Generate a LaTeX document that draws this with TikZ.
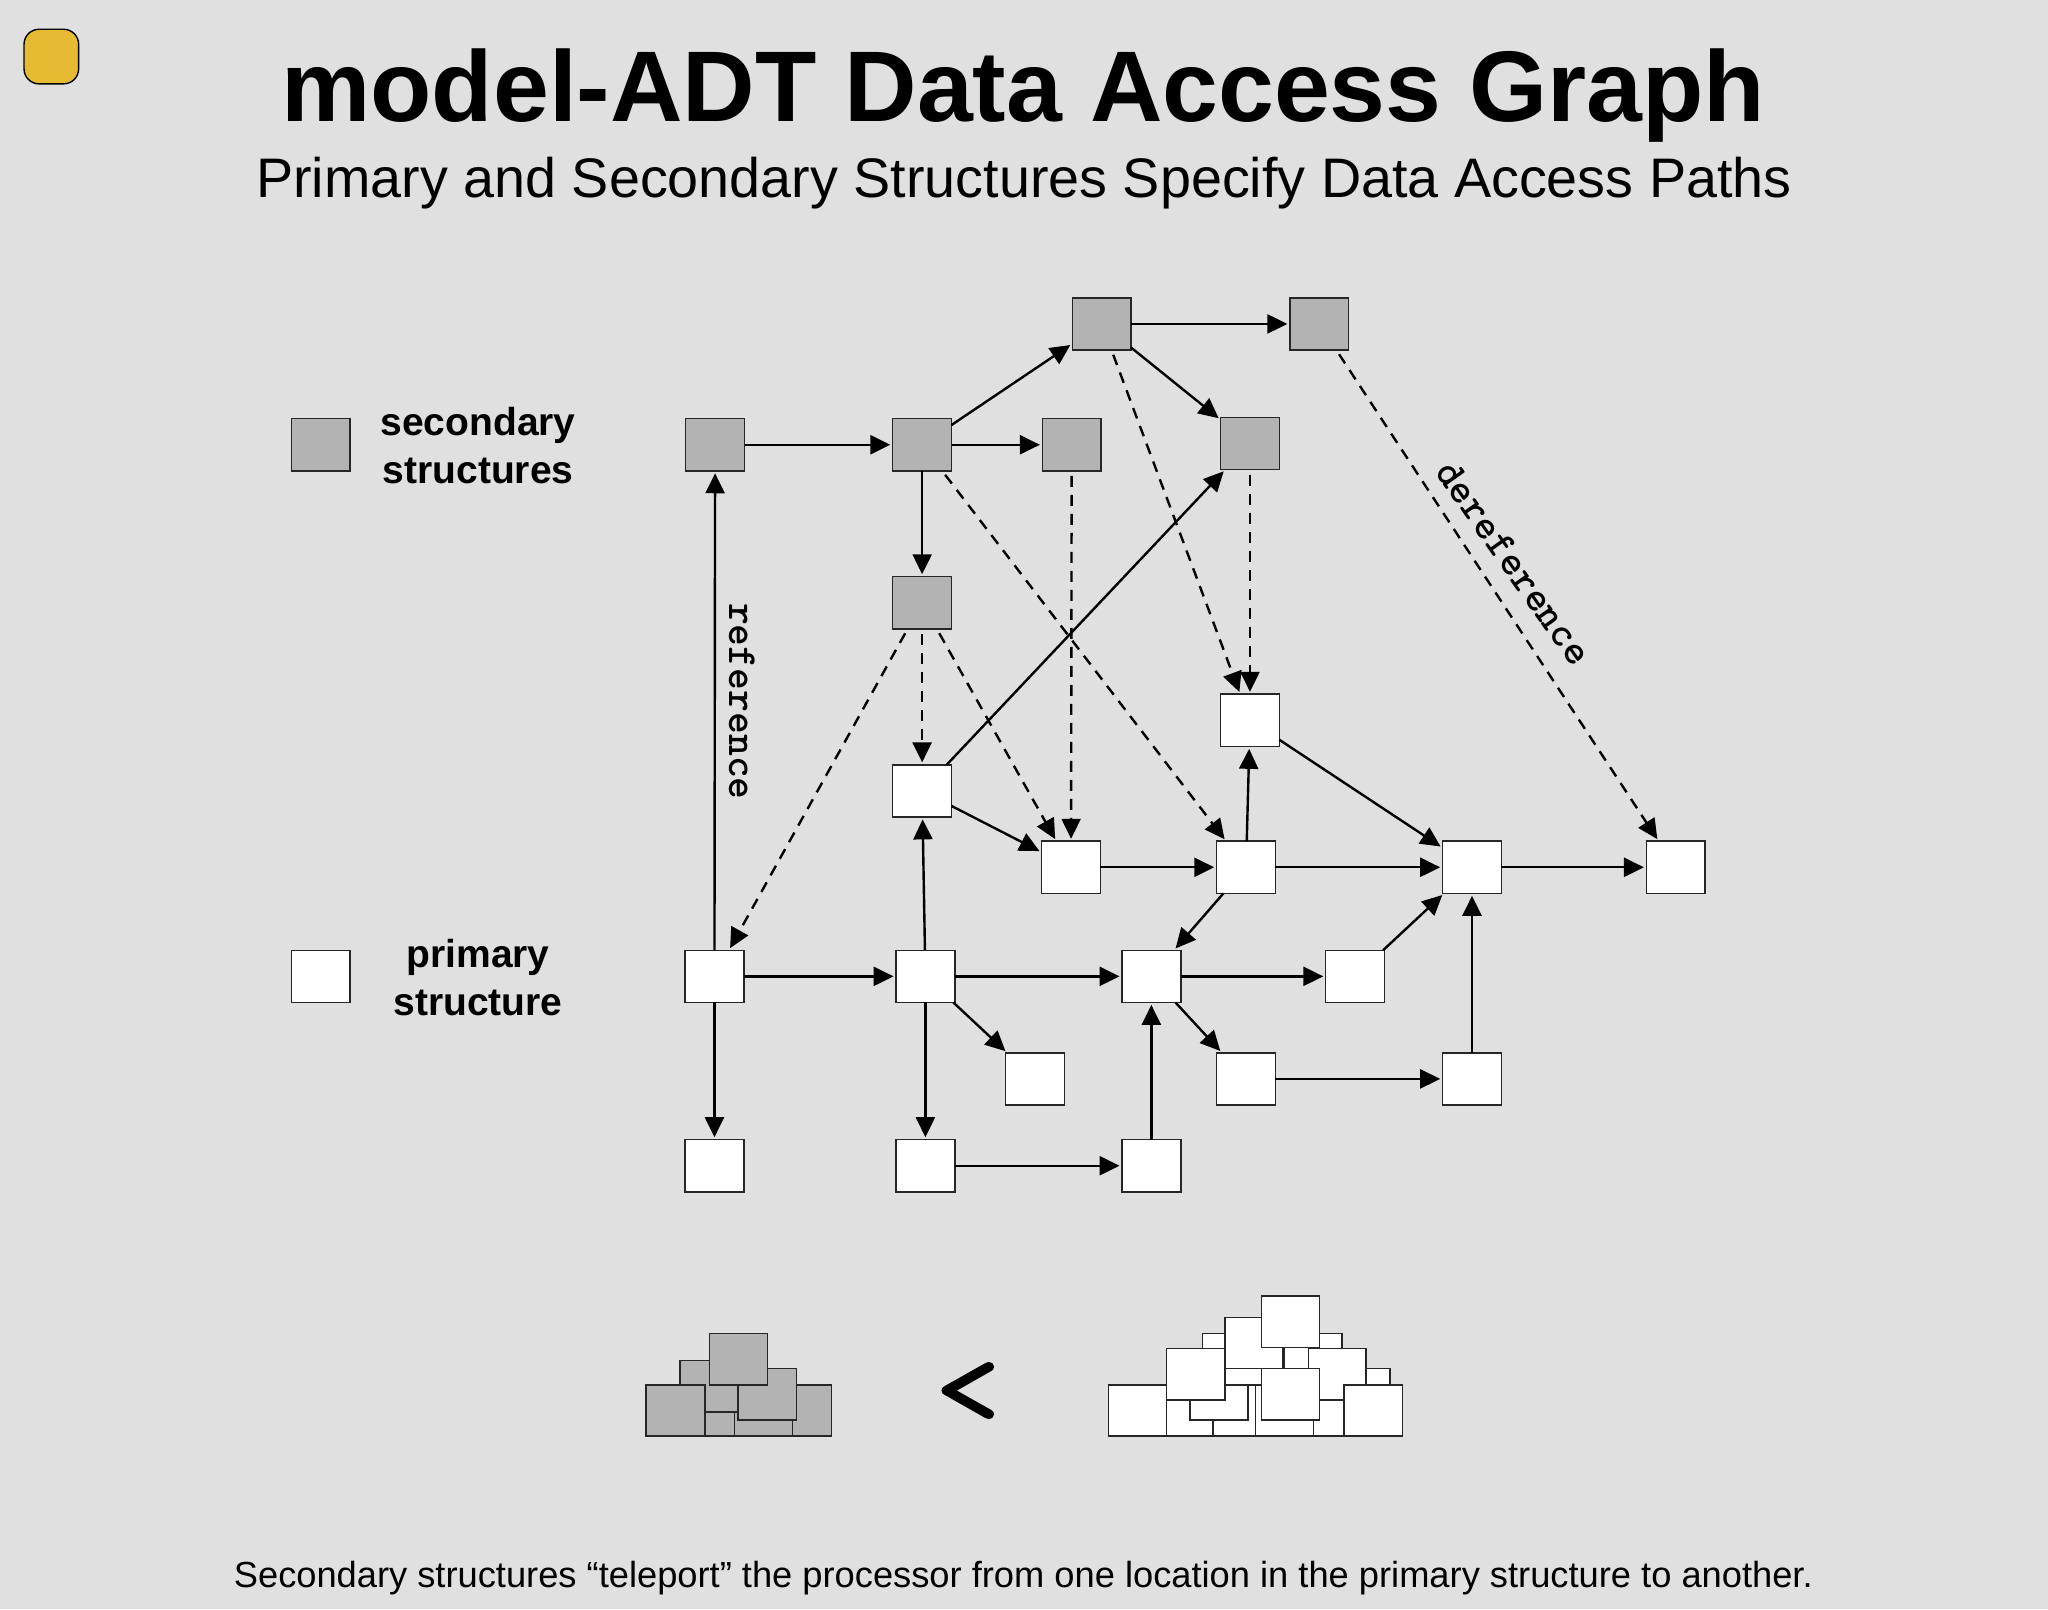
\documentclass[tikz,border=0pt]{standalone}
\usepackage{fontspec}
\setmainfont{Liberation Sans}
\newfontfamily\monolt[FakeBold=2.2]{Latin Modern Mono}
\usetikzlibrary{arrows.meta}
\definecolor{bgc}{HTML}{E0E0E0}
\definecolor{secc}{HTML}{B3B3B3}
\definecolor{yel}{HTML}{E6BA33}
\tikzset{
  boxs/.style={draw=black!85,line width=0.75pt,minimum width=29.4pt,minimum height=26.1pt,inner sep=0pt,outer sep=0pt},
  sec/.style={boxs,fill=secc},
  pri/.style={boxs,fill=white},
  arr/.style={line width=1.2pt,-{Triangle[length=10pt,width=9.5pt]},shorten >=1.2pt},
  darr/.style={arr,dash pattern=on 5.5pt off 4pt,shorten <=2.5pt},
  leg/.style={font=\fontsize{19.5}{24}\selectfont\bfseries,align=center,inner sep=0pt},
  pile/.style={draw=black!85,line width=0.75pt},
}
\newcommand{\pg}[4]{\draw[pile,fill=secc] (#1,#2) rectangle (#3,#4);}
\newcommand{\pw}[4]{\draw[pile,fill=white] (#1,#2) rectangle (#3,#4);}
\begin{document}
\begin{tikzpicture}[x=0.65306pt,y=-0.65306pt]
\fill[bgc] (0,0) rectangle (1568,1232);
\useasboundingbox (0,0) rectangle (1568,1232);
% badge
\node[draw=black,line width=0.7pt,fill=yel,rounded corners=7.5pt,minimum width=27.3pt,minimum height=27.3pt,inner sep=0pt] (badge) at (39.3,43.3) {};
% titles
\node[inner sep=0pt,font=\fontsize{50.2}{54}\selectfont\bfseries] (title) at (783.5,73.5) {model-ADT Data Access Graph};
\node[inner sep=0pt,font=\fontsize{27.85}{32}\selectfont] (subtitle) at (784,140) {Primary and Secondary Structures Specify Data Access Paths};
\node[inner sep=0pt,font=\fontsize{18.14}{22}\selectfont] (footer) at (783.5,1208) {Secondary structures “teleport” the processor from one location in the primary structure to another.};
% legend
\node[sec] (legs) at (245.5,340.5) {};
\node[pri] (legp) at (245.5,747.5) {};
\node[leg] (legst) at (366,341.5) {secondary\\structures};
\node[leg] (legpt) at (366,748.5) {primary\\structure};
% secondary
\node[sec] (s1) at (547.5,340.5) {};
\node[sec] (s2) at (706,340.5) {};
\node[sec] (s3) at (820.5,340.5) {};
\node[sec] (s4) at (843.5,248) {};
\node[sec] (s5) at (1010,248) {};
\node[sec] (s6) at (957,339.5) {};
\node[sec] (s7) at (706,461.5) {};
% primary
\node[pri] (pa) at (547,747.5) {};
\node[pri] (pb) at (708.5,747.5) {};
\node[pri] (pc) at (881.5,747.5) {};
\node[pri] (pd) at (1037.5,747.5) {};
\node[pri] (pe) at (547,892.5) {};
\node[pri] (pf) at (708.5,892.5) {};
\node[pri] (pg) at (881.5,892.5) {};
\node[pri] (ph) at (792.5,826) {};
\node[pri] (pi) at (954,826) {};
\node[pri] (pj) at (1127,826) {};
\node[pri] (pk) at (820,664) {};
\node[pri] (pl) at (954,664) {};
\node[pri] (pm) at (1127,664) {};
\node[pri] (pn) at (1283,664) {};
\node[pri] (po) at (706,605.5) {};
\node[pri] (pp) at (957,551.5) {};
% solid
\draw[arr] (s1) -- (s2);
\draw[arr] (s2) -- (s3);
\draw[arr] (s2) -- (s7);
\draw[arr] (s2) -- (s4);
\draw[arr] (s4) -- (s5);
\draw[arr] (s4) -- (s6);
\draw[arr] (pa) -- (s1);
\draw[arr] (pa) -- (pb);
\draw[arr] (pb) -- (pc);
\draw[arr] (pc) -- (pd);
\draw[arr] (pa) -- (pe);
\draw[arr] (pb) -- (pf);
\draw[arr] (pf) -- (pg);
\draw[arr] (pg) -- (pc);
\draw[arr] (pb) -- (po);
\draw[arr] (pb) -- (ph);
\draw[arr] (pc) -- (pi);
\draw[arr] (pi) -- (pj);
\draw[arr] (pj) -- (pm);
\draw[arr] (pd) -- (pm);
\draw[arr] (pk) -- (pl);
\draw[arr] (pl) -- (pm);
\draw[arr] (pm) -- (pn);
\draw[arr] (pl) -- (pc);
\draw[arr] (pl) -- (pp);
\draw[arr] (pp) -- (pm);
\draw[arr] (po) -- (pk);
\draw[arr] (po) -- (s6);
% dashed
\draw[darr] (s2) -- (pl);
\draw[darr] (s3) -- (pk);
\draw[darr] (s4) -- (pp);
\draw[darr] (s6) -- (pp);
\draw[darr] (s5) -- (pn);
\draw[darr] (s7) -- (pa);
\draw[darr] (s7) -- (po);
\draw[darr] (s7) -- (pk);
% labels
\node[inner sep=0pt,rotate=-90,font=\ttfamily\bfseries\fontsize{20.8}{22}\selectfont\addfontfeature{FakeBold=1}] (lref) at (568,537) {reference};
\node[inner sep=0pt,rotate=-54.8,font=\ttfamily\bfseries\fontsize{20.8}{22}\selectfont\addfontfeature{FakeBold=1}] (lder) at (1159,431) {dereference};
\node[inner sep=0pt,xscale=1.12,font=\monolt\bfseries\fontsize{55}{55}\selectfont] (lt) at (741,1067) {<};
% piles
\begin{scope}[x=0.2615pt,y=-0.166667pt,shift={(1185.5,3810)}]
\pg{293}{345}{404}{498}
\pg{219}{345}{330}{498}
\pg{162}{428}{219}{498}
\pg{115}{272}{226}{426}
\pg{50}{345}{162}{498}
\pg{226}{296}{337}{450}
\pg{171}{190}{282}{345}
\pw{1114}{190}{1225}{345}
\pw{1269}{190}{1380}{345}
\pw{1361}{296}{1472}{450}
\pw{1157}{296}{1268}{450}
\pw{1045}{345}{1134}{498}
\pw{1134}{345}{1215}{498}
\pw{1215}{345}{1326}{498}
\pw{1326}{345}{1384}{498}
\pw{1090}{345}{1201}{450}
\pw{1157}{142}{1268}{296}
\pw{1316}{236}{1426}{390}
\pw{1045}{236}{1157}{390}
\pw{934}{345}{1045}{498}
\pw{1226}{78}{1337}{232}
\pw{1226}{296}{1337}{450}
\pw{1384}{345}{1496}{498}
\end{scope}
\end{tikzpicture}
\end{document}
